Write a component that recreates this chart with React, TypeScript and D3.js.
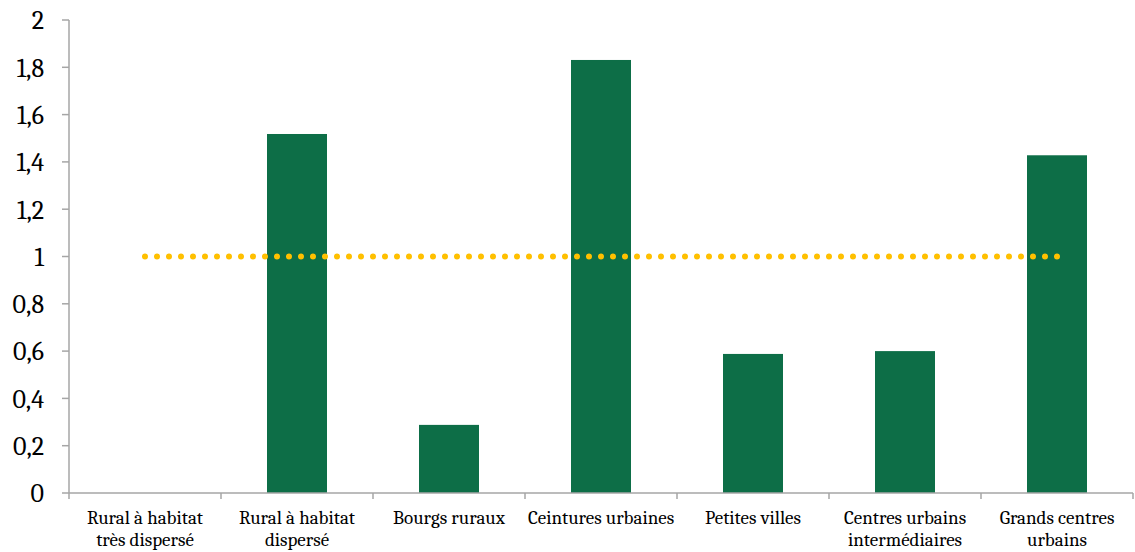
import React from "react";
import * as d3 from "d3";

const categories: string[][] = [
  ["Rural à habitat", "très dispersé"],
  ["Rural à habitat", "dispersé"],
  ["Bourgs ruraux"],
  ["Ceintures urbaines"],
  ["Petites villes"],
  ["Centres urbains", "intermédiaires"],
  ["Grands centres", "urbains"],
];
const values: number[] = [0, 1.518, 0.288, 1.831, 0.588, 0.6, 1.428];
const referenceValue = 1;
const yTicks: number[] = [0, 0.2, 0.4, 0.6, 0.8, 1, 1.2, 1.4, 1.6, 1.8, 2];

const W = 1135;
const H = 552;
const left = 69;
const right = 1133;
const top = 20;
const bottom = 493;

export default function App() {
  const idx = categories.map((_, i) => String(i));
  const xb = d3.scaleBand<string>().domain(idx).range([left, right]);
  const y = d3.scaleLinear().domain([0, 2]).range([bottom, top]);
  const fmt = (v: number) => (Math.round(v * 10) / 10).toString().replace(".", ",");
  const axisColor = "#a6a6a6";
  const font = "Cambria, Caladea, 'Liberation Serif', 'DejaVu Serif', serif";

  const lineX1 = xb("0")! + xb.bandwidth() / 2;
  const lineX2 = xb(String(categories.length - 1))! + xb.bandwidth() / 2 + 0.5;

  return (
    <svg width={W} height={H} style={{ position: "absolute", left: 0, top: 0 }}>
      <rect width={W} height={H} fill="#fff" />
      {values.map((v, i) =>
        v > 0 ? (
          <rect
            key={i}
            x={xb(String(i))! + xb.bandwidth() / 2 - 30}
            width={60}
            y={y(v)}
            height={bottom - y(v)}
            fill="#0d6e47"
          />
        ) : null
      )}
      {/* y axis */}
      <line x1={left} x2={left} y1={top} y2={bottom} stroke={axisColor} strokeWidth={1.5} />
      {yTicks.map((t) => (
        <g key={t}>
          <line x1={left - 7} x2={left} y1={y(t)} y2={y(t)} stroke={axisColor} strokeWidth={1.5} />
          <text
            x={44}
            y={y(t)}
            dy="0.36em"
            textAnchor="end"
            fontFamily={font}
            fontSize={26}
            fill="#000"
          >
            {fmt(t)}
          </text>
        </g>
      ))}
      {/* x axis */}
      <line x1={left} x2={right} y1={bottom} y2={bottom} stroke={axisColor} strokeWidth={1.5} />
      {d3.range(categories.length + 1).map((i) => {
        const xx = left + i * xb.bandwidth();
        return <line key={i} x1={xx} x2={xx} y1={bottom} y2={bottom + 6} stroke={axisColor} strokeWidth={1.5} />;
      })}
      {categories.map((lines, i) => (
        <text
          key={i}
          x={xb(String(i))! + xb.bandwidth() / 2}
          y={524}
          textAnchor="middle"
          fontFamily={font}
          fontSize={19}
          fill="#000"
        >
          {lines.map((l, j) => (
            <tspan key={j} x={xb(String(i))! + xb.bandwidth() / 2} dy={j === 0 ? 0 : 22}>
              {l}
            </tspan>
          ))}
        </text>
      ))}
      {/* reference dotted line */}
      <line
        x1={lineX1}
        x2={lineX2}
        y1={y(referenceValue)}
        y2={y(referenceValue)}
        stroke="#ffc000"
        strokeWidth={6}
        strokeLinecap="round"
        strokeDasharray="0 12"
      />
    </svg>
  );
}
